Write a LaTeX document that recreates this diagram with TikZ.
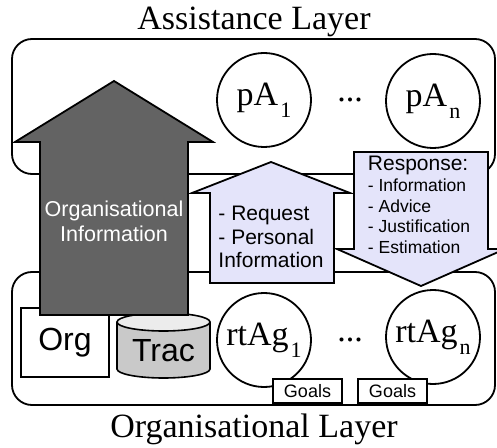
\documentclass[tikz,border=0pt]{standalone}
\usepackage{fontspec}
\setmainfont{Liberation Serif}
\setsansfont{Liberation Sans}
\definecolor{layDark}{HTML}{636363}
\definecolor{layLilac}{HTML}{E4E4FA}
\definecolor{layStore}{HTML}{C9C9C9}
\newcommand{\laysub}[1]{\kern2pt\raisebox{-12pt}{\fontsize{22}{22}\selectfont #1}}
\tikzset{
  lay frame/.style={draw=black, line width=1.8pt, rounded corners=20pt},
  lay agent/.style={circle, draw=black, fill=white, line width=1.8pt, minimum size=94pt, inner sep=0pt, font=\fontsize{34}{40}\selectfont},
  lay title/.style={font=\fontsize{34}{40}\selectfont, anchor=base},
  lay dots/.style={font=\fontsize{34}{40}\selectfont, inner sep=0pt},
  lay box/.style={draw=black, fill=white, line width=1.6pt, minimum width=88pt, minimum height=69pt, inner sep=0pt, font=\sffamily\fontsize{32}{36}\selectfont},
  lay goal/.style={draw=black, fill=white, line width=1.6pt, minimum width=69pt, minimum height=24pt, inner sep=0pt, font=\sffamily\fontsize{18}{20}\selectfont},
  lay arrow/.style={draw=black, line width=1.8pt, line join=miter},
  lay text/.style={font=\sffamily\fontsize{21}{23.5}\selectfont, align=left, inner sep=0pt},
}
\begin{document}
\begin{tikzpicture}[x=1pt,y=1pt]
  \useasboundingbox (0,0) rectangle (497,447);
  \node[lay title] (assist) at (254,417) {Assistance Layer};
  \node[lay title] (orglayer) at (254,10) {Organisational Layer};
  \draw[lay frame] (12,273) rectangle (495,408);
  \draw[lay frame] (12,42) rectangle (495,175);

  \node[lay agent] (pA1) at (264,347) {pA\laysub{1}};
  \node[lay agent] (pAn) at (433,346) {pA\laysub{n}};
  \node[lay dots] (pdots) at (350,347) {...};
  \node[lay agent] (rt1) at (264,107) {rtAg\laysub{1}};
  \node[lay agent] (rtn) at (433,110) {rtAg\laysub{n}};
  \node[lay dots] (rdots) at (350,107) {...};
  \node[lay goal] (goal1) at (307.5,56) {Goals};
  \node[lay goal] (goaln) at (392.5,56) {Goals};

  \node[lay box] (org) at (65,104.5) {Org};
  \fill[layStore] (117,125) -- (117,78) arc[start angle=180, end angle=360, x radius=46.5, y radius=9]
    -- (210,125) -- cycle;
  \draw[line width=1.6pt] (117,125) -- (117,78) arc[start angle=180, end angle=360, x radius=46.5, y radius=9] -- (210,125);
  \draw[line width=1.6pt, fill=layStore!35] (163.5,125) ellipse[x radius=46.5, y radius=9];
  \node[font=\sffamily\fontsize{32}{36}\selectfont] (trac) at (163.5,96) {Trac};

  \draw[lay arrow, fill=layLilac] (210,164) -- (210,254) -- (192,254) -- (271,285) -- (350,254)
    -- (334,254) -- (334,164) -- cycle;
  \node[lay text] (request) at (271,210) {- Request\\- Personal\\Information};
  \draw[lay arrow, fill=layLilac] (354,295) -- (354,198) -- (337,198) -- (421,161) -- (505,198)
    -- (488,198) -- (488,295) -- cycle;
  \node[lay text, font=\sffamily\fontsize{17.5}{20.5}\selectfont] (response) at (419,242.5)
    {{\fontsize{21}{21}\selectfont Response:}\\[1pt]- Information\\- Advice\\- Justification\\- Estimation};
  \draw[lay arrow, fill=layDark] (40,132) -- (40,305) -- (15,305) -- (114,366) -- (213,305)
    -- (188,305) -- (188,132) -- cycle;
  \node[lay text, align=center, text=white, font=\sffamily\fontsize{21.5}{25}\selectfont] (orginfo)
    at (114,226) {Organisational\\Information};
\end{tikzpicture}
\end{document}
